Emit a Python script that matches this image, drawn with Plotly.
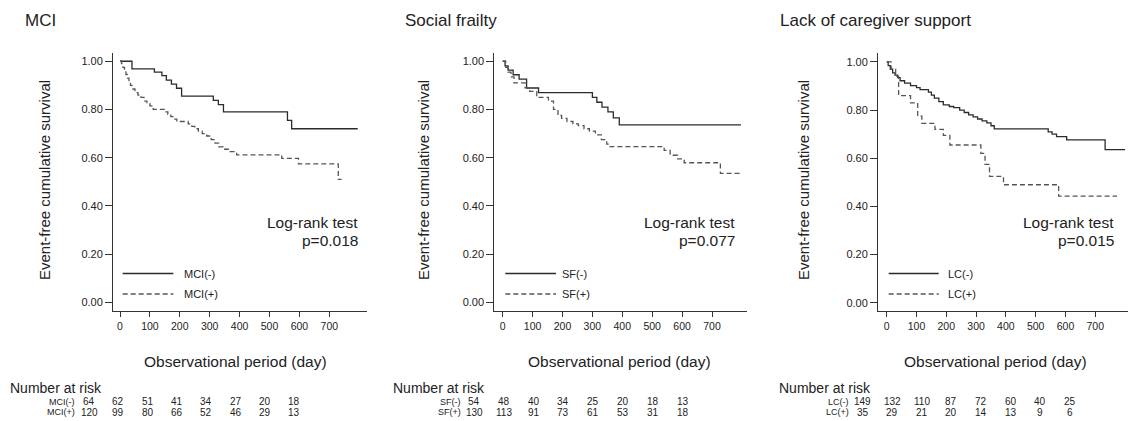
import plotly.graph_objects as go

W, H = 1128, 421

# ---------------- data ----------------
panel_titles = ["MCI", "Social frailty", "Lack of caregiver support"]
group_labels = [("MCI(-)", "MCI(+)"), ("SF(-)", "SF(+)"), ("LC(-)", "LC(+)")]
p_values = ["p=0.018", "p=0.077", "p=0.015"]

day_ticks = [0, 100, 200, 300, 400, 500, 600, 700]
surv_ticks = [0.0, 0.2, 0.4, 0.6, 0.8, 1.0]

mci_neg_t = [0, 40, 115, 140, 155, 172, 189, 206, 312, 329, 346, 560, 574, 795]
mci_neg_s = [1.0, 0.968, 0.955, 0.94, 0.922, 0.905, 0.888, 0.855, 0.838, 0.82, 0.79, 0.755, 0.72, 0.72]

mci_pos_t = [0, 5, 10, 15, 20, 25, 30, 35, 40, 50, 60, 70, 80, 90, 100, 111, 150, 160, 170, 180,
             190, 228, 240, 250, 262, 275, 290, 305, 318, 330, 345, 362, 390, 541, 597, 730, 741]
mci_pos_s = [1.0, 0.99, 0.975, 0.96, 0.945, 0.93, 0.915, 0.9, 0.885, 0.87, 0.86, 0.85, 0.835, 0.825,
             0.815, 0.80, 0.79, 0.78, 0.77, 0.76, 0.75, 0.74, 0.73, 0.72, 0.71, 0.70, 0.69, 0.675,
             0.66, 0.645, 0.635, 0.625, 0.612, 0.597, 0.574, 0.51, 0.51]

sf_neg_t = [0, 8, 18, 35, 55, 80, 120, 300, 315, 332, 352, 370, 390, 797]
sf_neg_s = [1.0, 0.981, 0.963, 0.944, 0.926, 0.889, 0.870, 0.850, 0.830, 0.810, 0.79, 0.765, 0.736, 0.736]

sf_pos_t = [0, 10, 18, 28, 38, 75, 90, 114, 153, 170, 185, 197, 215, 235, 253, 272, 290, 310,
            330, 348, 359, 540, 560, 585, 607, 728, 797]
sf_pos_s = [1.0, 0.975, 0.955, 0.935, 0.91, 0.89, 0.875, 0.85, 0.835, 0.80, 0.775, 0.763, 0.75,
            0.74, 0.733, 0.72, 0.71, 0.695, 0.675, 0.656, 0.646, 0.63, 0.61, 0.595, 0.579, 0.535, 0.535]

lc_neg_t = [0, 5, 12, 20, 28, 37, 45, 60, 80, 100, 112, 140, 150, 160, 175, 190, 210, 225, 245,
            260, 275, 290, 305, 320, 336, 350, 361, 542, 555, 570, 604, 733, 800]
lc_neg_s = [1.0, 0.985, 0.97, 0.955, 0.945, 0.935, 0.922, 0.912, 0.902, 0.893, 0.885, 0.875, 0.862,
            0.85, 0.835, 0.822, 0.815, 0.81, 0.80, 0.79, 0.78, 0.772, 0.763, 0.755, 0.747, 0.735,
            0.722, 0.71, 0.70, 0.69, 0.676, 0.636, 0.636]

lc_pos_t = [0, 15, 30, 40, 80, 104, 118, 162, 190, 212, 316, 330, 345, 392, 577, 773]
lc_pos_s = [1.0, 0.97, 0.94, 0.86, 0.83, 0.775, 0.745, 0.72, 0.695, 0.655, 0.62, 0.575, 0.525,
            0.49, 0.443, 0.443]

mci_neg_risk = [64, 62, 51, 41, 34, 27, 20, 18]
mci_pos_risk = [120, 99, 80, 66, 52, 46, 29, 13]
sf_neg_risk = [54, 48, 40, 34, 25, 20, 18, 13]
sf_pos_risk = [130, 113, 91, 73, 61, 53, 31, 18]
lc_neg_risk = [149, 132, 110, 87, 72, 60, 40, 25]
lc_pos_risk = [35, 29, 21, 20, 14, 13, 9, 6]

curves = [((mci_neg_t, mci_neg_s), (mci_pos_t, mci_pos_s)),
          ((sf_neg_t, sf_neg_s), (sf_pos_t, sf_pos_s)),
          ((lc_neg_t, lc_neg_s), (lc_pos_t, lc_pos_s))]
risks = [(mci_neg_risk, mci_pos_risk), (sf_neg_risk, sf_pos_risk), (lc_neg_risk, lc_pos_risk)]

# ---------------- layout geometry (pixels) ----------------
geo = [
    dict(x0=113, x1=366.7, xr=[-23.4, 825], yr=[-0.036, 1.033], title_x=23, ytitle_x=44,
         xtitle_x=235, lr_x=360, leg_x0=122.7, leg_x1=173.3, leg_tx=181.7,
         nar_x=8, lab_x=77, col0=89, dcol=29.3),
    dict(x0=494.3, x1=746.7, xr=[-28, 816], yr=[-0.036, 1.033], title_x=403, ytitle_x=423,
         xtitle_x=619, lr_x=736.7, leg_x0=505.3, leg_x1=556, leg_tx=560.3,
         nar_x=391, lab_x=463, col0=474, dcol=29.8),
    dict(x0=878, x1=1128, xr=[-29.2, 809.8], yr=[-0.0345, 1.036], title_x=778, ytitle_x=803,
         xtitle_x=995, lr_x=1116, leg_x0=888.7, leg_x1=938.7, leg_tx=946.3,
         nar_x=777, lab_x=851, col0=862.5, dcol=29.6),
]
Y_TOP, Y_BOT = 53.3, 311

def px(x):
    return x / W

def py(y):
    return 1 - y / H

FONT = "Liberation Sans, Arial, sans-serif"
TXT = "#222222"
SOLID_C = "#2b2b2b"
DASH_C = "#555555"

fig = go.Figure()
annotations = []
shapes = []
layout = {}

for i in range(3):
    g = geo[i]
    sfx = "" if i == 0 else str(i + 1)
    (tn, sn), (tp, sp) = curves[i]
    fig.add_trace(go.Scatter(x=tn, y=sn, mode="lines", line=dict(shape="hv", color=SOLID_C, width=1.3),
                             xaxis="x" + sfx, yaxis="y" + sfx, showlegend=False, name=group_labels[i][0]))
    fig.add_trace(go.Scatter(x=tp, y=sp, mode="lines",
                             line=dict(shape="hv", color=DASH_C, width=1.3, dash="5px,3px"),
                             xaxis="x" + sfx, yaxis="y" + sfx, showlegend=False, name=group_labels[i][1]))
    layout["xaxis" + sfx] = dict(domain=[px(g["x0"]), px(g["x1"])], range=g["xr"], anchor="y" + sfx,
                                 showline=True, linecolor="#333", linewidth=1, showgrid=False,
                                 zeroline=False, ticks="outside", ticklen=5, tickcolor="#333",
                                 tickvals=day_ticks, tickfont=dict(size=10.5, color=TXT, family=FONT))
    layout["yaxis" + sfx] = dict(domain=[py(Y_BOT), py(Y_TOP)], range=g["yr"], anchor="x" + sfx,
                                 showline=True, linecolor="#333", linewidth=1, showgrid=False,
                                 zeroline=False, ticks="outside", ticklen=7, tickcolor="#333",
                                 tickvals=surv_ticks, tickformat=".2f",
                                 tickfont=dict(size=11, color=TXT, family=FONT))

    # panel title
    annotations.append(dict(text=panel_titles[i], x=px(g["title_x"]), y=py(20), xref="paper", yref="paper",
                            xanchor="left", yanchor="middle", showarrow=False,
                            font=dict(size=17, color=TXT, family=FONT)))
    # y title
    annotations.append(dict(text="Event-free cumulative survival", x=px(g["ytitle_x"]), y=py(180),
                            xref="paper", yref="paper", xanchor="center", yanchor="middle", textangle=-90,
                            showarrow=False, font=dict(size=15, color=TXT, family=FONT)))
    # x title
    annotations.append(dict(text="Observational period (day)", x=px(g["xtitle_x"]), y=py(361),
                            xref="paper", yref="paper", xanchor="center", yanchor="middle",
                            showarrow=False, font=dict(size=15.5, color=TXT, family=FONT)))
    # log-rank
    annotations.append(dict(text="Log-rank test", x=px(g["lr_x"]), y=py(222), xref="paper", yref="paper",
                            xanchor="right", yanchor="middle", showarrow=False,
                            font=dict(size=15.5, color=TXT, family=FONT)))
    annotations.append(dict(text=p_values[i], x=px(g["lr_x"]), y=py(240), xref="paper", yref="paper",
                            xanchor="right", yanchor="middle", showarrow=False,
                            font=dict(size=15.5, color=TXT, family=FONT)))
    # legend keys
    for k, (yy, col, dash) in enumerate([(273.5, SOLID_C, "solid"), (294, DASH_C, "5px,3px")]):
        shapes.append(dict(type="line", xref="paper", yref="paper", x0=px(g["leg_x0"]), x1=px(g["leg_x1"]),
                           y0=py(yy), y1=py(yy), line=dict(color=col, width=1.3, dash=dash)))
        annotations.append(dict(text=group_labels[i][k], x=px(g["leg_tx"]), y=py(yy), xref="paper",
                                yref="paper", xanchor="left", yanchor="middle", showarrow=False,
                                font=dict(size=11, color=TXT, family=FONT)))
    # number at risk
    annotations.append(dict(text="Number at risk", x=px(g["nar_x"]), y=py(388), xref="paper", yref="paper",
                            xanchor="left", yanchor="middle", showarrow=False,
                            font=dict(size=14, color=TXT, family=FONT)))
    for k, yy in enumerate([401.7, 412.3]):
        annotations.append(dict(text=group_labels[i][k], x=px(g["lab_x"]), y=py(yy), xref="paper",
                                yref="paper", xanchor="right", yanchor="middle", showarrow=False,
                                font=dict(size=9, color=TXT, family=FONT)))
        for j, v in enumerate(risks[i][k]):
            annotations.append(dict(text=str(v), x=px(g["col0"] + g["dcol"] * j), y=py(yy), xref="paper",
                                    yref="paper", xanchor="center", yanchor="middle", showarrow=False,
                                    font=dict(size=10, color=TXT, family=FONT)))

fig.update_layout(width=W, height=H, margin=dict(l=0, r=0, t=0, b=0), plot_bgcolor="white",
                  paper_bgcolor="white", showlegend=False, annotations=annotations, shapes=shapes,
                  font=dict(family=FONT, color=TXT), **layout)

fig.write_html("out.html")
